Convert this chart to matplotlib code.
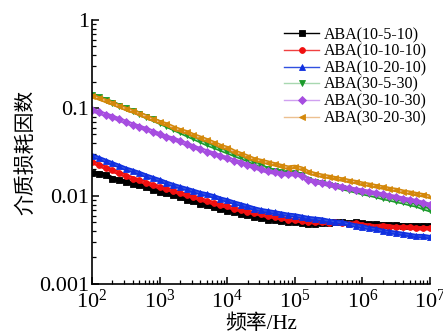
import numpy as np
import matplotlib
matplotlib.use("Agg")
import matplotlib.pyplot as plt
from matplotlib.ticker import LogLocator, FixedLocator, FixedFormatter, NullFormatter

plt.rcParams['font.family'] = ['Liberation Serif', 'Noto Sans CJK SC', 'DejaVu Sans']
plt.rcParams['mathtext.fontset'] = 'stix'

# frequency grid (Hz): 10^2 ... 10^7, 0.1-decade steps
freq = np.logspace(2, 7, 51)

labels = ["ABA(10-5-10)", "ABA(10-10-10)", "ABA(10-20-10)",
          "ABA(30-5-30)", "ABA(30-10-30)", "ABA(30-20-30)"]

aba_10_5_10 = [0.0182, 0.0180, 0.0174, 0.0158, 0.0151, 0.0145, 0.0138, 0.0132, 0.0126, 0.0117,
               0.0112, 0.0107, 0.0102, 0.0097, 0.0091, 0.0087, 0.0082, 0.0078, 0.0074, 0.0071,
               0.0068, 0.0066, 0.0063, 0.0061, 0.0058, 0.0056, 0.0054, 0.0053, 0.0052, 0.0051,
               0.0050, 0.0049, 0.0048, 0.0048, 0.0049, 0.0049, 0.0050, 0.0050, 0.0049, 0.0050,
               0.0049, 0.0048, 0.0048, 0.0047, 0.0047, 0.0047, 0.0046, 0.0046, 0.0046, 0.0046, 0.0046]
aba_10_10_10 = [0.0245, 0.0226, 0.0209, 0.0195, 0.0182, 0.0170, 0.0158, 0.0150, 0.0141, 0.0133,
                0.0126, 0.0120, 0.0115, 0.0108, 0.0102, 0.0098, 0.0092, 0.0087, 0.0083, 0.0079,
                0.0076, 0.0072, 0.0069, 0.0066, 0.0064, 0.0062, 0.0059, 0.0058, 0.0056, 0.0054,
                0.0053, 0.0052, 0.0051, 0.0050, 0.0050, 0.0049, 0.0050, 0.0049, 0.0048, 0.0049,
                0.0047, 0.0046, 0.0045, 0.0046, 0.0045, 0.0044, 0.0044, 0.0044, 0.0043, 0.0043, 0.0043]
aba_10_20_10 = [0.0288, 0.0269, 0.0251, 0.0234, 0.0219, 0.0204, 0.0193, 0.0182, 0.0170, 0.0160,
                0.0151, 0.0141, 0.0133, 0.0126, 0.0120, 0.0114, 0.0108, 0.0104, 0.0099, 0.0093,
                0.0089, 0.0084, 0.0080, 0.0076, 0.0072, 0.0069, 0.0067, 0.0065, 0.0063, 0.0061,
                0.0060, 0.0058, 0.0056, 0.0055, 0.0054, 0.0052, 0.0051, 0.0050, 0.0048, 0.0046,
                0.0045, 0.0043, 0.0042, 0.0040, 0.0039, 0.0038, 0.0037, 0.0036, 0.0035, 0.0035, 0.0034]
aba_30_5_30 = [0.141, 0.132, 0.123, 0.115, 0.106, 0.0989, 0.0923, 0.0861, 0.0794, 0.0741,
               0.0684, 0.0631, 0.0582, 0.0537, 0.0495, 0.0457, 0.0422, 0.0389, 0.0363, 0.0339,
               0.0316, 0.0295, 0.0275, 0.0257, 0.0237, 0.0221, 0.0200, 0.0193, 0.0186, 0.0181,
               0.0183, 0.0174, 0.0153, 0.0146, 0.0140, 0.0135, 0.0129, 0.0123, 0.0118, 0.0113,
               0.0108, 0.0104, 0.0100, 0.0095, 0.0092, 0.0088, 0.0085, 0.0081, 0.0078, 0.0073, 0.0069]
aba_30_10_30 = [0.0955, 0.0891, 0.0841, 0.0794, 0.0741, 0.0692, 0.0646, 0.0610, 0.0575, 0.0537,
                0.0501, 0.0468, 0.0447, 0.0417, 0.0389, 0.0363, 0.0339, 0.0320, 0.0302, 0.0282,
                0.0269, 0.0251, 0.0240, 0.0224, 0.0214, 0.0200, 0.0190, 0.0185, 0.0180, 0.0176,
                0.0178, 0.0170, 0.0152, 0.0146, 0.0141, 0.0136, 0.0131, 0.0127, 0.0122, 0.0118,
                0.0115, 0.0111, 0.0107, 0.0104, 0.0100, 0.0097, 0.0093, 0.0090, 0.0087, 0.0083, 0.0079]
aba_30_20_30 = [0.138, 0.129, 0.121, 0.113, 0.105, 0.098, 0.092, 0.086, 0.080, 0.074,
                0.069, 0.065, 0.060, 0.056, 0.053, 0.049, 0.046, 0.043, 0.040, 0.037,
                0.035, 0.032, 0.030, 0.028, 0.026, 0.0250, 0.0240, 0.0229, 0.0219, 0.0210,
                0.0214, 0.0205, 0.0186, 0.0177, 0.0170, 0.0165, 0.0159, 0.0154, 0.0148, 0.0144,
                0.0138, 0.0134, 0.0129, 0.0125, 0.0120, 0.0117, 0.0112, 0.0109, 0.0105, 0.0102, 0.0098]

series = [aba_10_5_10, aba_10_10_10, aba_10_20_10, aba_30_5_30, aba_30_10_30, aba_30_20_30]
marker_colors = ["#000000", "#f01010", "#1030e0", "#1a9a2a", "#a64de0", "#d4880a"]
line_colors = ["#000000", "#f04040", "#3050e0", "#a8d8b0", "#d0a0f0", "#ecc090"]
markers = ["s", "o", "^", "v", "D", "<"]
msizes = [4.2, 4.2, 4.6, 4.6, 3.8, 4.6]

yticks = [0.001, 0.01, 0.1, 1]
ytick_labels = ["0.001", "0.01", "0.1", "1"]

fig = plt.figure(figsize=(4.43, 3.36), dpi=100)
ax = fig.add_axes([0.2077, 0.1548, 0.763, 0.7857])

for vals, lab, mc, lc, mk, ms in zip(series, labels, marker_colors, line_colors, markers, msizes):
    ax.plot(freq, vals, color=mc, lw=3.2, solid_capstyle='butt', solid_joinstyle='round')
    ax.plot(freq, vals, color=lc, lw=1.0, marker=mk, markersize=ms,
            markerfacecolor=mc, markeredgecolor=mc, markeredgewidth=0.6, label=lab)

ax.set_xscale('log')
ax.set_yscale('log')
ax.set_xlim(1e2, 1e7)
ax.set_ylim(1e-3, 1)

ax.yaxis.set_major_locator(FixedLocator(yticks))
ax.yaxis.set_major_formatter(FixedFormatter(ytick_labels))
ax.yaxis.set_minor_locator(LogLocator(base=10, subs=np.arange(2, 10)))
ax.yaxis.set_minor_formatter(NullFormatter())
ax.xaxis.set_major_locator(LogLocator(base=10, numticks=10))
ax.xaxis.set_minor_locator(LogLocator(base=10, subs=np.arange(2, 10), numticks=20))
ax.xaxis.set_minor_formatter(NullFormatter())

for s in ['top', 'right']:
    ax.spines[s].set_visible(False)
for s in ['left', 'bottom']:
    ax.spines[s].set_linewidth(1.2)

ax.tick_params(which='major', direction='in', length=5, width=1.1, labelsize=16)
ax.tick_params(axis='y', which='major', pad=2)
ax.tick_params(axis='x', which='major', pad=4)
ax.tick_params(which='minor', direction='in', length=3, width=0.9)

ax.set_xlabel("频率/Hz", fontsize=15, labelpad=1, fontweight='light')
ax.set_ylabel("介质损耗因数", fontsize=15, labelpad=2, fontweight='light')

leg = ax.legend(loc='upper right', bbox_to_anchor=(1.02, 1.01), frameon=False,
                fontsize=11.5, handlelength=2.2, handletextpad=0.3, labelspacing=0.04,
                borderaxespad=0.2)

fig.savefig("out.png", dpi=100)
